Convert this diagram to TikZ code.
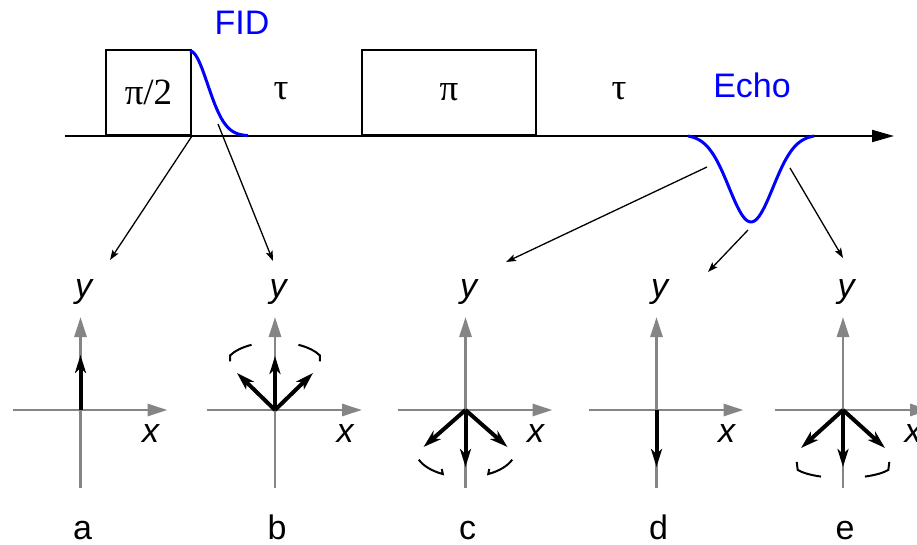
\documentclass[tikz,border=0pt]{standalone}
\usepackage{fontspec}
\setmainfont{Liberation Sans}
\newfontfamily\greekfont{Liberation Serif}
\usetikzlibrary{arrows.meta, calc}
\definecolor{cblue}{HTML}{0000FF}
\definecolor{cgrey}{HTML}{858585}
\tikzset{
  every picture/.style={line width=2pt},
  pulsebox/.style={draw, line width=2pt, inner sep=0pt, anchor=south west, font=\greekfont\fontsize{37}{42}\selectfont},
  greek/.style={font=\greekfont\fontsize{37}{42}\selectfont, anchor=base},
  sigtext/.style={text=cblue, font=\fontsize{34}{40}\selectfont, anchor=base},
  sig/.style={draw=cblue, line width=3pt},
  timeline/.style={-{Triangle[length=22pt,width=12pt]}, line width=2pt},
  axis/.style={draw=cgrey, -{Triangle[length=20pt,width=12pt]}, line width=2.8pt},
  vec/.style={-{Stealth[length=18pt,width=11pt,inset=5pt]}, line width=4pt},
  prec/.style={line width=2pt},
  ptr/.style={-{Stealth[length=10pt,width=7pt,inset=2pt]}, line width=1.3pt},
  axlbl/.style={font=\fontsize{34}{40}\selectfont\itshape, anchor=base},
  lbl/.style={font=\fontsize{34}{40}\selectfont, anchor=base, inner sep=0pt},
}

\begin{document}
\begin{tikzpicture}[x=1pt, y=-1pt]
  \useasboundingbox (0,0) rectangle (917,545);
  % pulse sequence
  \node[pulsebox, minimum width=85pt, minimum height=85pt] (p90) at (105,136) {π/2};
  \node[pulsebox, minimum width=174pt, minimum height=85pt] (p180) at (361,136) {π};
  \node[greek] (tau1) at (281,100) {τ};
  \node[greek] (tau2) at (619,100) {τ};
  \coordinate (t0) at (65,136);
  \coordinate (t1) at (894,136);
  \draw[timeline] (t0) -- (t1);
  \draw[sig] plot[domain=0:58, samples=40] ({190+\x},{136-85*exp(-(\x/25)*(\x/25))});
  \draw[sig] plot[domain=-63:63, samples=70] ({751+\x},{136+86*(exp(-(\x/31)*(\x/31))-0.016)/0.984});
  \node[sigtext] (fidlbl) at (242,35) {FID};
  \node[sigtext] (echolbl) at (752,98) {Echo};

  % vector diagrams
  \foreach \p/\cx in {a/80.5, b/275, c/465.5, d/656.5, e/843} {
    \coordinate (o\p) at (\cx,410);
    \draw[axis] ($(o\p)+(-68,0)$) -- ($(o\p)+(87,0)$);
    \draw[axis] ($(o\p)+(0,78)$) -- ($(o\p)+(0,-93)$);
    \node[axlbl] (y\p) at ($(o\p)+(3,-113)$) {y};
    \node[axlbl] (x\p) at ($(o\p)+(70,32)$) {x};
    \node[lbl] (n\p) at ($(o\p)+(2,129)$) {\p};
  }
  \draw[vec] (oa) -- ++(0,-55);
  \foreach \dx/\dy in {-38/-37, 0/-54, 38/-37} \draw[vec] (ob) -- ++(\dx,\dy);
  \foreach \dx/\dy in {-42/37, 0/57, 42/37} \draw[vec] (oc) -- ++(\dx,\dy);
  \draw[vec] (od) -- ++(0,57);
  \foreach \dx/\dy in {-42/38, 0/57, 42/38} \draw[vec] (oe) -- ++(\dx,\dy);

  % precession arcs
  \draw[prec] ($(ob)+(0,-44)$) ++(242:50 and 24) arc[start angle=242, end angle=206, x radius=50, y radius=24] -- ++(0,6);
  \draw[prec] ($(ob)+(0,-44)$) ++(298:50 and 24) arc[start angle=298, end angle=334, x radius=50, y radius=24] -- ++(0,6);
  \draw[prec] ($(oc)+(0,40)$) ++(159:50 and 27) arc[start angle=159, end angle=117, x radius=50, y radius=27] -- ++(-1,-5);
  \draw[prec] ($(oc)+(0,40)$) ++(21:50 and 27) arc[start angle=21, end angle=63, x radius=50, y radius=27] -- ++(1,-5);
  \draw[prec] ($(oe)+(0,54)$) ++(155:50 and 14) ++(-1,-8) -- ++(1,8) arc[start angle=155, end angle=116, x radius=50, y radius=14];
  \draw[prec] ($(oe)+(0,54)$) ++(25:50 and 14) ++(1,-8) -- ++(-1,8) arc[start angle=25, end angle=64, x radius=50, y radius=14];

  % pointers from the signal to the diagrams
  \coordinate (fid) at (218,124);
  \coordinate (echo1) at (707,167);
  \coordinate (echo2) at (748,230);
  \coordinate (echo3) at (790,168);
  \coordinate (ta) at (110,260);
  \coordinate (tb) at (273,261);
  \coordinate (tc) at (506,262);
  \coordinate (td) at (708,272);
  \coordinate (te) at (843,258);
  \draw[ptr] (p90.south east) -- (ta);
  \draw[ptr] (fid) -- (tb);
  \draw[ptr] (echo1) -- (tc);
  \draw[ptr] (echo2) -- (td);
  \draw[ptr] (echo3) -- (te);
\end{tikzpicture}
\end{document}
